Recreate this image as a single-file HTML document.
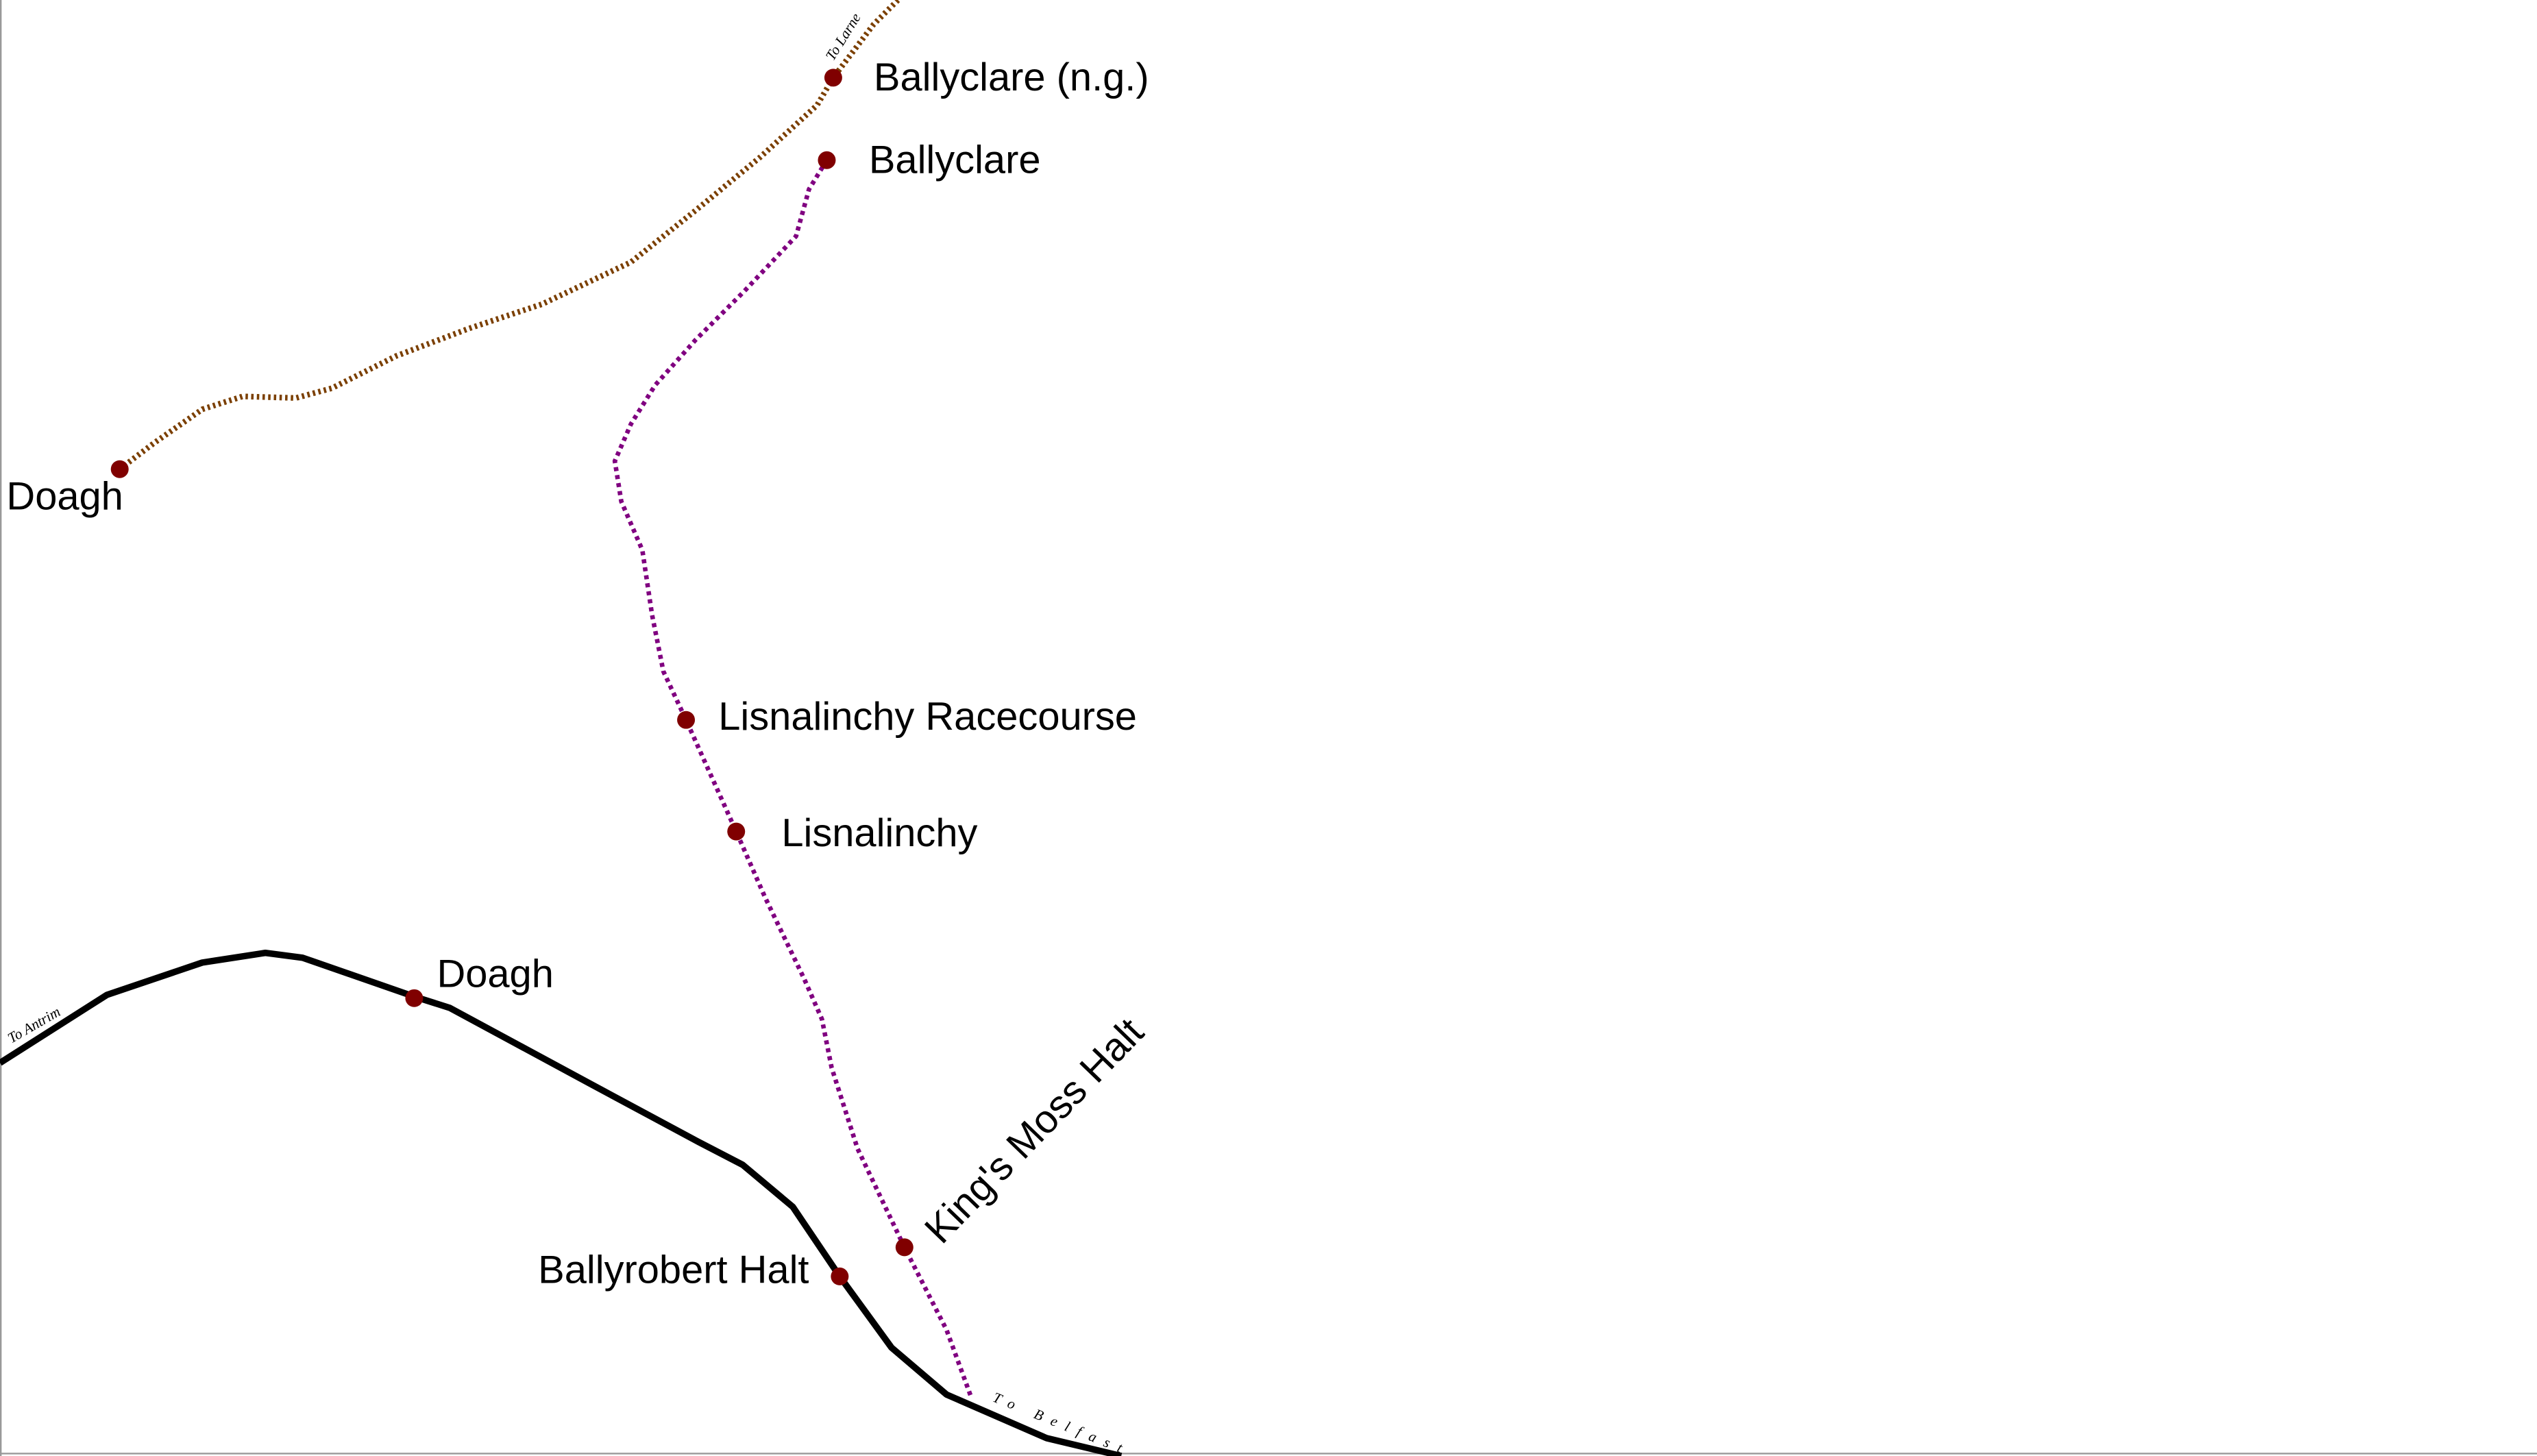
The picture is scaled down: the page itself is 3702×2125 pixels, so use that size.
<!DOCTYPE html>
<html><head><meta charset="utf-8"><style>
html,body{margin:0;padding:0;background:#fff;}
svg{display:block;}
.t{font-family:"Liberation Sans",Arial,sans-serif;font-size:24.5px;fill:#000;}
.s{font-family:"Liberation Serif",serif;font-style:italic;font-size:9px;fill:#000;}
</style></head><body>
<svg width="3702" height="2125" viewBox="0 0 1568 900" preserveAspectRatio="none" xmlns="http://www.w3.org/2000/svg">
<rect x="0" y="0" width="1568" height="900" fill="#fff"/>
<line x1="0.5" y1="0" x2="0.5" y2="900" stroke="#999" stroke-width="1"/>
<line x1="0" y1="898.5" x2="1568" y2="898.5" stroke="#999" stroke-width="1"/>
<polyline fill="none" stroke="#000" stroke-width="4" stroke-linejoin="round" points="0,657 66,615 125,595 164,589 187,592 256,616 278,623 365,670 432,706 459,720 490,746 519,789 551,833 585,862 647,889 693,900"/>
<polyline fill="none" stroke="#7b3f00" stroke-width="3.5" stroke-dasharray="1.5 2" points="74,290 95,274 125,253 150,245 183,246 205,240 245,220 290,203 335,188 390,162 430,130 470,97 505,65 515,48 540,15 555,0"/>
<polyline fill="none" stroke="#800080" stroke-width="2.8" stroke-dasharray="2.5 2.5" points="511,99 500,117 492,146 460,180 430,210 405,238 390,262 380,285 384,310 397,340 403,380 410,415 424,445 455,514 473,555 497,605 508,630 514,660 530,710 559,771 585,822 600,863"/>
<g fill="#800000">
<circle cx="515" cy="48" r="5.5"/><circle cx="511" cy="99" r="5.5"/><circle cx="74" cy="290" r="5.5"/>
<circle cx="424" cy="445" r="5.5"/><circle cx="455" cy="514" r="5.5"/><circle cx="256" cy="617" r="5.5"/>
<circle cx="519" cy="789" r="5.5"/><circle cx="559" cy="771" r="5.5"/>
</g>
<text class="t" x="540" y="56">Ballyclare (n.g.)</text>
<text class="t" x="537" y="107">Ballyclare</text>
<text class="t" x="4" y="315">Doagh</text>
<text class="t" x="444" y="451">Lisnalinchy Racecourse</text>
<text class="t" x="483" y="523">Lisnalinchy</text>
<text class="t" x="270" y="610">Doagh</text>
<text class="t" x="500" y="793" text-anchor="end">Ballyrobert Halt</text>
<text class="t" transform="translate(582,770) rotate(-46)">King's Moss Halt</text>
<text class="s" transform="translate(515,38) rotate(-58)">To Larne</text>
<text class="s" transform="translate(7,645) rotate(-30)">To Antrim</text>
<text class="s" letter-spacing="5.5" transform="translate(613,866) rotate(22)">To Belfast</text>
</svg>
</body></html>
